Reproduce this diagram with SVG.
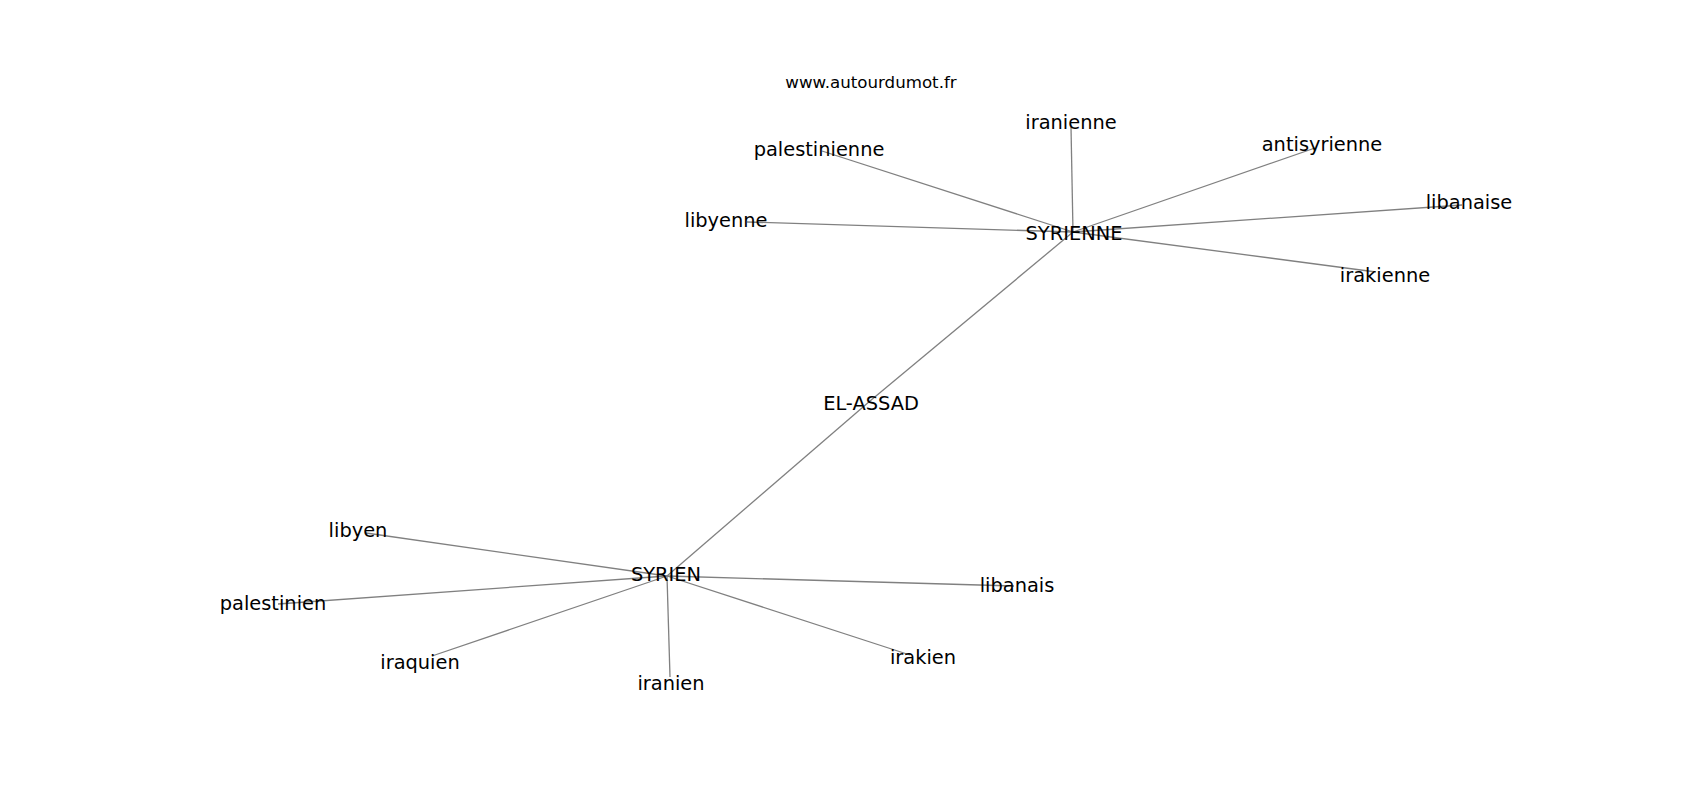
<svg xmlns="http://www.w3.org/2000/svg" width="1700" height="800" viewBox="0 0 1700 800">
<style>
.e{stroke:#808080;stroke-width:1.3;fill:none}
.l{font-family:"DejaVu Sans",sans-serif;font-size:19.4px;fill:#000;text-anchor:middle}
.t{font-family:"DejaVu Sans",sans-serif;font-size:16.67px;fill:#000;text-anchor:middle}
</style>
<rect width="1700" height="800" fill="#fff"/>
<g id="edges">
<line class="e" x1="1073" y1="232" x2="822" y2="151"/>
<line class="e" x1="1073" y1="232" x2="1071" y2="127"/>
<line class="e" x1="1073" y1="232" x2="1315" y2="148"/>
<line class="e" x1="1073" y1="232" x2="747" y2="222"/>
<line class="e" x1="1073" y1="232" x2="1462" y2="205"/>
<line class="e" x1="1073" y1="232" x2="1376" y2="272"/>
<line class="e" x1="1073" y1="232" x2="870" y2="401"/>
<line class="e" x1="870" y1="401" x2="667" y2="576"/>
<line class="e" x1="667" y1="576" x2="366" y2="533"/>
<line class="e" x1="667" y1="576" x2="278" y2="604"/>
<line class="e" x1="667" y1="576" x2="432" y2="656"/>
<line class="e" x1="667" y1="576" x2="670" y2="677"/>
<line class="e" x1="667" y1="576" x2="910" y2="655"/>
<line class="e" x1="667" y1="576" x2="1014" y2="586"/>
</g>
<text class="t" x="871" y="88">www.autourdumot.fr</text>
<g id="n-palestinienne"><text class="l" x="819" y="156">palestinienne</text></g>
<g id="n-iranienne"><text class="l" x="1071" y="129">iranienne</text></g>
<g id="n-antisyrienne"><text class="l" x="1322" y="151">antisyrienne</text></g>
<g id="n-libyenne"><text class="l" x="726" y="227">libyenne</text></g>
<g id="n-SYRIENNE"><text class="l" x="1074" y="240">SYRIENNE</text></g>
<g id="n-libanaise"><text class="l" x="1469" y="209">libanaise</text></g>
<g id="n-irakienne"><text class="l" x="1385" y="282">irakienne</text></g>
<g id="n-EL-ASSAD"><text class="l" x="871" y="410">EL-ASSAD</text></g>
<g id="n-libyen"><text class="l" x="358" y="537">libyen</text></g>
<g id="n-SYRIEN"><text class="l" x="666" y="581">SYRIEN</text></g>
<g id="n-libanais"><text class="l" x="1017" y="592">libanais</text></g>
<g id="n-palestinien"><text class="l" x="273" y="610">palestinien</text></g>
<g id="n-iraquien"><text class="l" x="420" y="669">iraquien</text></g>
<g id="n-irakien"><text class="l" x="923" y="664">irakien</text></g>
<g id="n-iranien"><text class="l" x="671" y="690">iranien</text></g>
</svg>
